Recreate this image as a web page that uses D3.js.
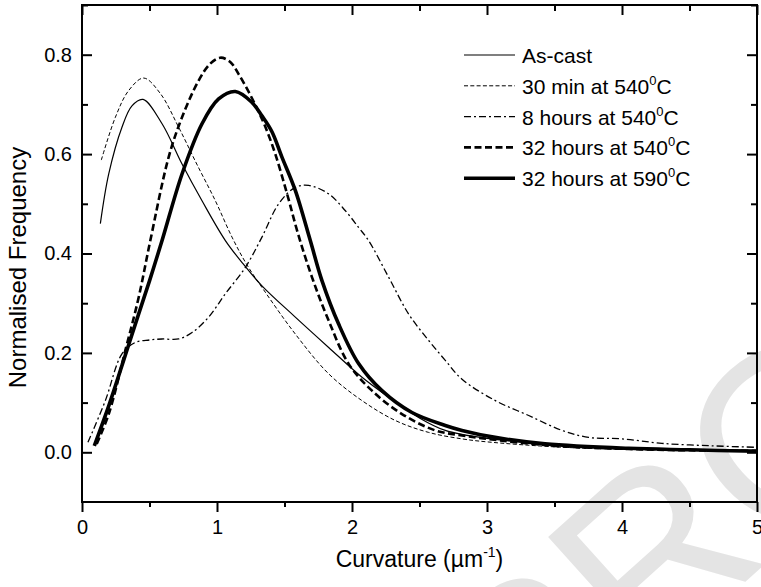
<!DOCTYPE html>
<html>
<head>
<meta charset="utf-8">
<script src="https://cdn.jsdelivr.net/npm/d3@7"></script>
<style>
  body { margin: 0; background: #fff; }
  svg { font-family: "Liberation Sans", Arial, sans-serif; }
  .axis text { font-size: 20px; fill: #000; }
  .axis line { stroke: #000; stroke-width: 2; }
  .axis path { display: none; }
</style>
</head>
<body>
<script>
// Size of the picture
var svgWidth = 761;
var svgHeight = 587;

// Plot frame
var margin = { top: 5, right: 4, bottom: 85, left: 82 };
var chartWidth = svgWidth - margin.left - margin.right;
var chartHeight = svgHeight - margin.top - margin.bottom;

// Curves, [curvature, frequency]
var asCast = [[0.136,0.46],[0.198,0.56],[0.296,0.654],[0.37,0.697],[0.452,0.71],[0.593,0.661],
  [0.741,0.58],[0.889,0.506],[1.062,0.426],[1.2,0.377],[1.333,0.335],[1.58,0.272],[1.827,0.211],
  [2.074,0.151],[2.272,0.111],[2.494,0.07],[2.691,0.044],[3.0,0.028],[3.5,0.016],[4.0,0.009],
  [4.5,0.006],[5.0,0.004]];
var min30 = [[0.143,0.588],[0.247,0.674],[0.346,0.728],[0.457,0.753],[0.58,0.722],[0.716,0.654],
  [0.85,0.58],[0.988,0.506],[1.111,0.433],[1.22,0.378],[1.358,0.322],[1.58,0.238],[1.827,0.158],
  [2.074,0.104],[2.321,0.064],[2.568,0.04],[2.815,0.027],[3.0,0.021],[3.5,0.011],[4.0,0.006],
  [4.5,0.004],[5.0,0.003]];
var hours8 = [[0.044,0.02],[0.173,0.104],[0.296,0.198],[0.395,0.221],[0.5,0.226],[0.593,0.228],
  [0.716,0.228],[0.815,0.241],[0.938,0.272],[1.062,0.319],[1.21,0.372],[1.333,0.433],[1.457,0.5],
  [1.58,0.533],[1.679,0.537],[1.827,0.52],[1.951,0.486],[2.05,0.452],[2.123,0.426],[2.272,0.352],
  [2.42,0.278],[2.568,0.225],[2.691,0.185],[2.815,0.147],[3.062,0.104],[3.309,0.074],[3.556,0.044],
  [3.753,0.03],[4.0,0.027],[4.296,0.018],[4.667,0.013],[5.0,0.01]];
var hours32at540 = [[0.109,0.017],[0.198,0.077],[0.321,0.205],[0.42,0.312],[0.506,0.426],
  [0.642,0.594],[0.741,0.674],[0.864,0.748],[0.95,0.782],[1.025,0.794],[1.1,0.785],[1.16,0.761],
  [1.235,0.725],[1.3,0.69],[1.358,0.655],[1.432,0.6],[1.519,0.52],[1.6,0.44],[1.704,0.352],
  [1.827,0.265],[1.975,0.178],[2.148,0.124],[2.37,0.077],[2.617,0.044],[2.815,0.034],[3.0,0.027],
  [3.5,0.013],[4.0,0.007],[4.5,0.004],[5.0,0.003]];
var hours32at590 = [[0.091,0.013],[0.2,0.095],[0.3,0.178],[0.4,0.262],[0.5,0.345],[0.593,0.426],
  [0.741,0.56],[0.889,0.661],[1.012,0.711],[1.136,0.726],[1.259,0.704],[1.333,0.677],[1.407,0.645],
  [1.481,0.594],[1.58,0.527],[1.691,0.426],[1.778,0.345],[1.901,0.258],[2.05,0.178],[2.222,0.124],
  [2.444,0.08],[2.691,0.054],[2.815,0.044],[3.06,0.03],[3.43,0.017],[4.05,0.008],[4.5,0.005],
  [5.0,0.002]];

// Legend names (text before the superscript, temperature)
var seriesNames = ["As-cast", "30 min at 540", "8 hours at 540", "32 hours at 540", "32 hours at 590"];
var seriesHasDegree = [false, true, true, true, true];

// Tick values
var xMajorTicks = [0, 1, 2, 3, 4, 5];
var xMinorTicks = [0.5, 1.5, 2.5, 3.5, 4.5];
var yMajorTicks = [0, 0.2, 0.4, 0.6, 0.8];
var yMinorTicks = [0.1, 0.3, 0.5, 0.7, 0.9];

// Line styles for each series
var styles = [
  { width: 1.2, dash: null },
  { width: 1, dash: "4,2.3" },
  { width: 1.3, dash: "7,3,2,3" },
  { width: 2.6, dash: "7,3.5" },
  { width: 3.6, dash: null }
];
var allSeries = [asCast, min30, hours8, hours32at540, hours32at590];

var svg = d3.select("body")
  .append("svg")
  .attr("width", svgWidth)
  .attr("height", svgHeight);

// Light watermark behind everything
svg.append("text")
  .attr("transform", "translate(525,780) rotate(-42)")
  .attr("font-size", 240)
  .attr("fill", "#e4e4e4")
  .text("PROOF");

var chartGroup = svg.append("g")
  .attr("transform", "translate(" + margin.left + ", " + margin.top + ")");

var xScale = d3.scaleLinear().domain([0, 5]).range([0, chartWidth]);
var yScale = d3.scaleLinear().domain([-0.1, 0.9]).range([chartHeight, 0]);

// Bottom axis: ticks point outward
chartGroup.append("g")
  .attr("class", "axis")
  .attr("transform", "translate(0, " + chartHeight + ")")
  .call(d3.axisBottom(xScale).tickValues(xMajorTicks).tickSize(10).tickPadding(8).tickFormat(d3.format("d")));
chartGroup.append("g")
  .attr("class", "axis")
  .attr("transform", "translate(0, " + chartHeight + ")")
  .call(d3.axisBottom(xScale).tickValues(xMinorTicks).tickSize(5).tickFormat(""));

// Top axis: ticks point inward
chartGroup.append("g")
  .attr("class", "axis")
  .call(d3.axisTop(xScale).tickValues(xMajorTicks).tickSize(-10).tickFormat(""));
chartGroup.append("g")
  .attr("class", "axis")
  .call(d3.axisTop(xScale).tickValues(xMinorTicks).tickSize(-6).tickFormat(""));

// Left axis: ticks point inward
chartGroup.append("g")
  .attr("class", "axis")
  .call(d3.axisLeft(yScale).tickValues(yMajorTicks).tickSize(-10).tickPadding(10).tickFormat(d3.format(".1f")));
chartGroup.append("g")
  .attr("class", "axis")
  .call(d3.axisLeft(yScale).tickValues(yMinorTicks).tickSize(-6).tickFormat(""));

// Right axis: ticks point inward
chartGroup.append("g")
  .attr("class", "axis")
  .attr("transform", "translate(" + chartWidth + ", 0)")
  .call(d3.axisRight(yScale).tickValues(yMajorTicks).tickSize(-10).tickFormat(""));
chartGroup.append("g")
  .attr("class", "axis")
  .attr("transform", "translate(" + chartWidth + ", 0)")
  .call(d3.axisRight(yScale).tickValues(yMinorTicks).tickSize(-6).tickFormat(""));

// Frame
chartGroup.append("rect")
  .attr("width", chartWidth)
  .attr("height", chartHeight)
  .attr("fill", "none")
  .attr("stroke", "#000")
  .attr("stroke-width", 2);

var drawLine = d3.line()
  .x(function (d) { return xScale(d[0]); })
  .y(function (d) { return yScale(d[1]); })
  .curve(d3.curveCatmullRom.alpha(0.5));

allSeries.forEach(function (data, i) {
  chartGroup.append("path")
    .attr("d", drawLine(data))
    .attr("fill", "none")
    .attr("stroke", "#000")
    .attr("stroke-width", styles[i].width)
    .attr("stroke-dasharray", styles[i].dash);
});

// Legend
var legend = chartGroup.append("g").attr("transform", "translate(382, 50)");
seriesNames.forEach(function (name, i) {
  var row = legend.append("g").attr("transform", "translate(0, " + (i * 30.8) + ")");
  row.append("line")
    .attr("x1", 0).attr("x2", 51)
    .attr("stroke", "#000")
    .attr("stroke-width", styles[i].width)
    .attr("stroke-dasharray", styles[i].dash);
  var label = row.append("text")
    .attr("x", 58)
    .attr("y", 8)
    .attr("font-size", 21)
    .text(name);
  if (seriesHasDegree[i]) {
    label.append("tspan").attr("font-size", 13).attr("dy", -9).text("0");
    label.append("tspan").attr("dy", 9).text("C");
  }
});

// Axis titles
chartGroup.append("text")
  .attr("x", chartWidth / 2)
  .attr("y", chartHeight + 65)
  .attr("text-anchor", "middle")
  .attr("font-size", 23)
  .text("Curvature (\u00b5m")
  .call(function (t) {
    t.append("tspan").attr("font-size", 14).attr("dy", -10).text("-1");
    t.append("tspan").attr("dy", 10).text(")");
  });

chartGroup.append("text")
  .attr("transform", "translate(-56, " + (chartHeight / 2 + 14) + ") rotate(-90)")
  .attr("text-anchor", "middle")
  .attr("font-size", 24)
  .text("Normalised Frequency");
</script>
</body>
</html>
